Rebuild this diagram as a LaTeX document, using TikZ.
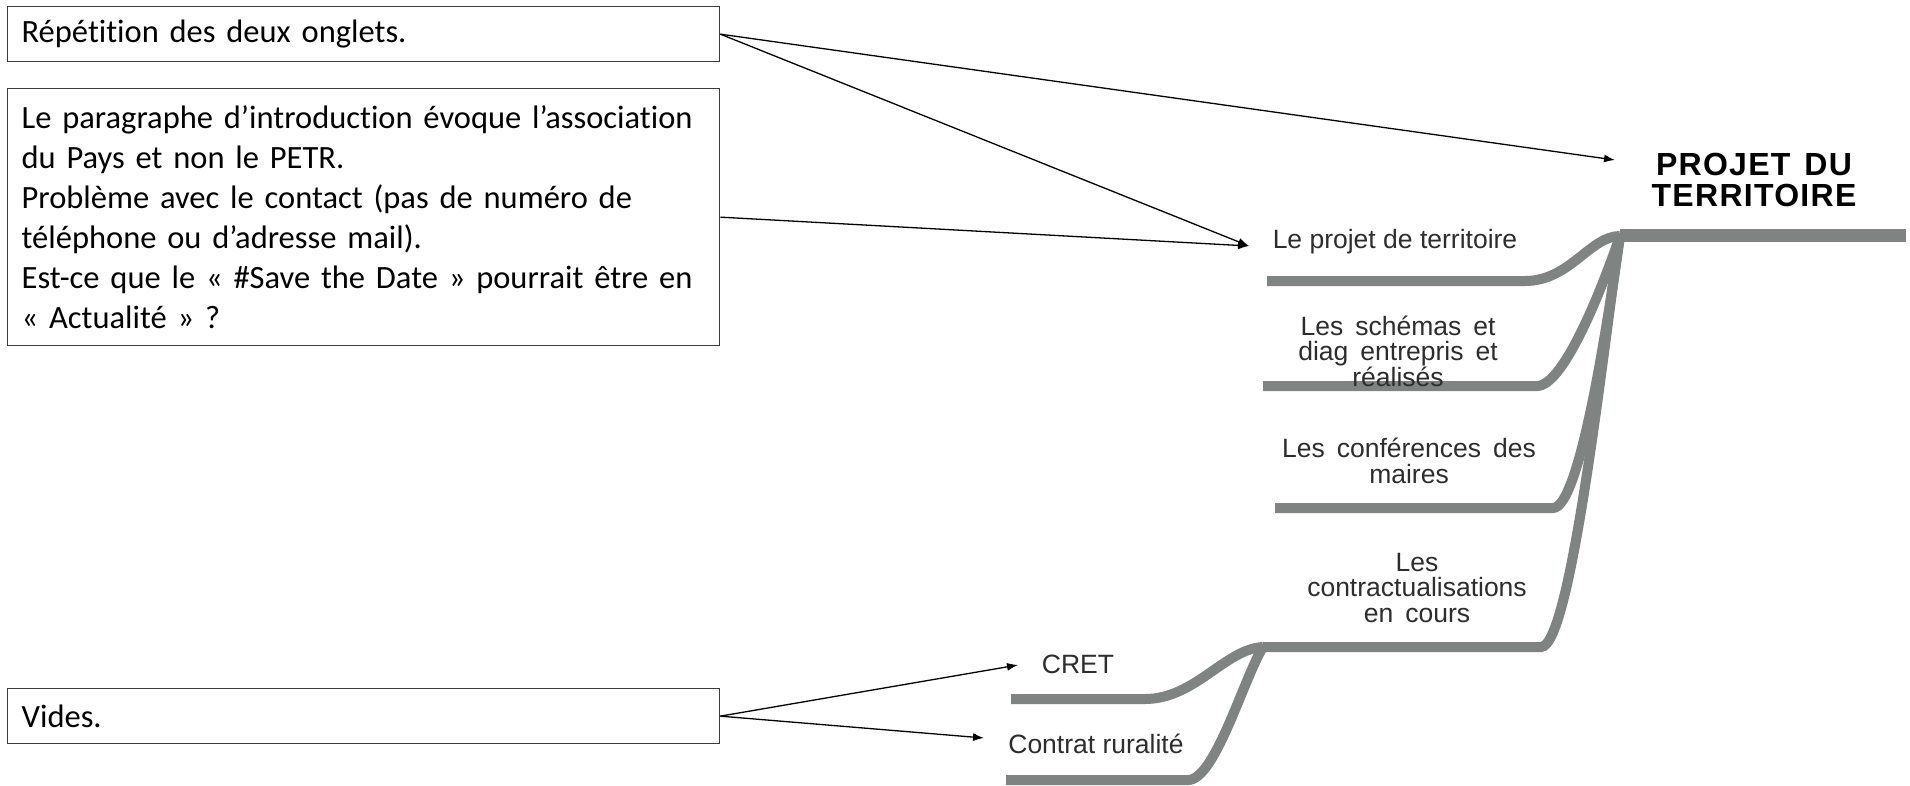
\documentclass[tikz,border=0pt]{standalone}
\usepackage{fontspec}
\setmainfont{Carlito}[Ligatures={NoCommon}]
\newfontfamily\arialf{Liberation Sans}
\newfontfamily\arialwide{Liberation Sans}[LetterSpace=4]
\usetikzlibrary{arrows.meta}
\definecolor{branchgray}{RGB}{127,131,129}
\definecolor{boxline}{RGB}{60,60,60}
\definecolor{topictext}{RGB}{45,45,45}
\begin{document}
\begin{tikzpicture}[x=1pt,y=-1pt,
  note/.style={draw=boxline, line width=1.3pt, anchor=north west, inner xsep=14pt,
    text width=684pt, align=left, font=\fontsize{32.5}{40}\selectfont},
  pointer/.style={-{Latex[length=11pt,width=8pt]}, line width=1.3pt, black},
  branch/.style={draw=branchgray, line width=10pt},
  trunk/.style={draw=branchgray, line width=13pt},
  topic/.style={font=\arialf\fontsize{26.5}{25.5}\selectfont, text=topictext, align=center, inner sep=0pt},
  title/.style={font=\arialwide\bfseries\fontsize{32}{31}\selectfont, align=center, inner sep=0pt},
]
\useasboundingbox (0,0) rectangle (1910,786);

% comment boxes
\node[note, minimum height=55pt] (rep) at (7,6) {Répétition des deux onglets.};
\node[note, minimum height=257pt] (intro) at (7,88)
  {Le paragraphe d’introduction évoque l’association\\
   du Pays et non le PETR.\\
   Problème avec le contact (pas de numéro de\\
   téléphone ou d’adresse mail).\\
   Est-ce que le « \#Save the Date » pourrait être en\\
   « Actualité » ?};
\node[note, minimum height=55pt] (vides) at (7,688) {Vides.};

% mind map hubs and branch ends
\coordinate (hub) at (1620,236);
\coordinate (mainend) at (1906,236);
\coordinate (b1) at (1525,281);  \coordinate (b1s) at (1267,281);
\coordinate (b2) at (1537,386);  \coordinate (b2s) at (1263,386);
\coordinate (b3) at (1553,508);  \coordinate (b3s) at (1275,508);
\coordinate (b4) at (1541,647);  \coordinate (subhub) at (1263,647);
\coordinate (c1) at (1145,699);  \coordinate (c1s) at (1011,699);
\coordinate (c2) at (1188,780);  \coordinate (c2s) at (1006,780);

\draw[trunk] (hub) -- (mainend);
\draw[branch] (b1s) -- (b1) .. controls (1570,281) and (1590,236) .. (hub);
\draw[branch] (b2s) -- (b2) .. controls (1565,386) and (1605,280) .. (hub);
\draw[branch] (b3s) -- (b3) .. controls (1580,508) and (1608,320) .. (hub);
\draw[branch] (subhub) -- (b4) .. controls (1572,647) and (1605,330) .. (hub);
\draw[branch] (c1s) -- (c1) .. controls (1195,699) and (1225,649) .. (subhub);
\draw[branch] (c2s) -- (c2) .. controls (1215,780) and (1243,680) .. (subhub);

% topic labels
\node[title] (tt) at (1754,180) {PROJET\hspace{14pt}DU\\TERRITOIRE};
\node[topic] (t1) at (1395,242) {Le projet de territoire};
\node[topic] (t2) at (1398,351) {Les\hspace{12pt}schémas\hspace{12pt}et\\diag\hspace{12pt}entrepris\hspace{12pt}et\\réalisés};
\node[topic] (t3) at (1409,461) {Les\hspace{12pt}conférences\hspace{12pt}des\\maires};
\node[topic] (t4) at (1417,588) {Les\\contractualisations\\en\hspace{12pt}cours};
\node[topic] (t5) at (1078,664) {CRET};
\node[topic] (t6) at (1096,744) {Contrat ruralité};

% arrow targets
\coordinate (pTitle) at (1615,160);
\coordinate (pT1) at (1249,246);
\coordinate (pCret) at (1018,665);
\coordinate (pContrat) at (984,738);

\draw[pointer] (rep.east) -- (pTitle);
\draw[pointer] (rep.east) -- (pT1);
\draw[pointer] (intro.east) -- (pT1);
\draw[pointer] (vides.east) -- (pCret);
\draw[pointer] (vides.east) -- (pContrat);
\end{tikzpicture}
\end{document}
